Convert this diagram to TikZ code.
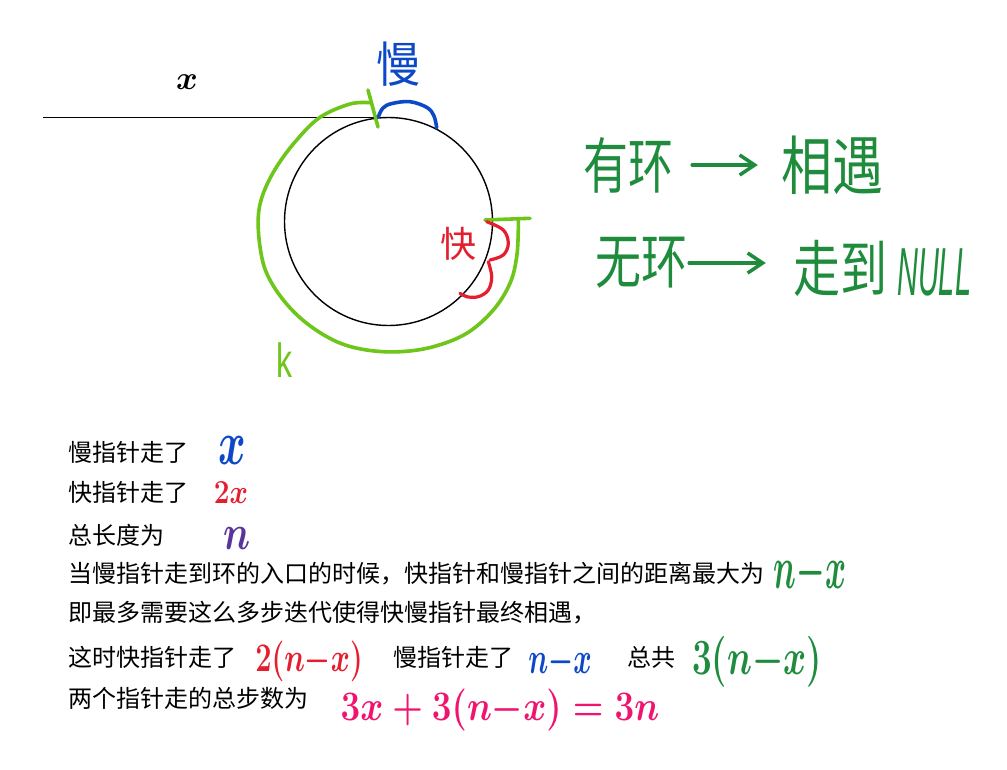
\RequirePackage{fix-cm}
\documentclass[tikz,border=0pt]{standalone}
\usepackage{fontspec}
\newfontfamily\cjk{Noto Sans CJK SC}
\newfontfamily\hwsans{Liberation Sans}
\usetikzlibrary{arrows.meta}
\definecolor{hblue}{RGB}{12,72,200}
\definecolor{hred}{RGB}{228,30,46}
\definecolor{hgreen}{RGB}{30,140,60}
\definecolor{hlime}{RGB}{110,198,26}
\definecolor{hpurple}{RGB}{90,52,150}
\definecolor{hpink}{RGB}{240,20,110}
\newcommand{\fs}[1]{\fontsize{#1}{#1}\selectfont}
\begin{document}
\begin{tikzpicture}[x=1pt,y=-1pt,
  txt/.style={anchor=west,inner sep=0pt,font=\cjk\fs{24}},
  hw/.style={inner sep=0pt,font=\boldmath},
  hand/.style={line width=3.6pt,line cap=round,line join=round},
  garrow/.style={draw=hgreen,line width=3.5pt,line cap=round,-{Straight Barb[length=15pt,width=20pt]}}]
\useasboundingbox (0,0) rectangle (1007,769);
\fill[white] (0,0) rectangle (1007,769);

% --- ring and tail ---
\draw[line width=1.4pt] (388.5,221.5) circle[radius=104];
\draw[line width=1.4pt] (43,117.5) -- (386,117.5);

% green arc (k)
\draw[hand,hlime] plot[smooth,tension=0.6] coordinates {
 (370,102.7) (350,104) (320,117.3) (296.7,140) (276.7,166.7) (263.3,193.3)
 (258.3,216.7) (260,246.7) (266.7,273.3) (283.3,300) (306.7,323.3) (336.7,341.7)
 (366.7,350) (400,351.7) (433.3,346.7) (466.7,333.3) (493.3,310) (510,283.3)
 (516.7,256.7) (518.3,230) (518.3,220)};
\draw[hand,hlime] (368,90) -- (378,127);
\draw[hand,hlime] (485,220) -- (530,218.3);

% blue arc (slow)
\draw[hand,hblue] plot[smooth,tension=0.6] coordinates {
 (378.3,117) (383,108) (392,103.5) (410,101.7) (427,107.5) (434,116) (436.7,128)};
% red arcs (fast)
\draw[hand,hred,line width=3.2pt] plot[smooth,tension=0.6] coordinates {
 (486.7,221.7) (503.3,230) (508.3,243.3) (503.3,255) (490,260)};
\draw[hand,hred,line width=3.2pt] plot[smooth,tension=0.6] coordinates {
 (488.3,261.7) (491.7,276.7) (488.3,290) (478.3,296.7) (466.7,296.7) (460,293.3)};

% labels on the ring
\node[hw] (lx) at (187,82) {\fs{33}$x$};
\node[inner sep=0pt,text=hblue,font=\cjk] (lslow) at (398,64) {\scalebox{1}[1.1]{\fs{44}慢}};
\node[inner sep=0pt,text=hred,font=\cjk] (lfast) at (458,244) {\fs{36}快};
\node[inner sep=0pt,text=hlime,font=\hwsans] (lk) at (284,360) {\scalebox{0.8}[1.2]{\fs{40}k}};

% --- right side notes ---
\node[inner sep=0pt,text=hgreen,font=\cjk] (you) at (628,165) {\scalebox{1}[1.35]{\fs{45}有环}};
\node[inner sep=0pt,text=hgreen,font=\cjk] (meet) at (832,165) {\scalebox{1}[1.25]{\fs{51}相遇}};
\node[inner sep=0pt,text=hgreen,font=\cjk] (wu) at (641,263) {\scalebox{1}[1.3]{\fs{46}无环}};
\node[inner sep=0pt,text=hgreen,font=\cjk] (zou) at (840,268) {\scalebox{1}[1.3]{\fs{47}走到}};
\node[inner sep=0pt,text=hgreen,font=\hwsans\itshape,anchor=west] (null) at (897,272) {\scalebox{0.85}[2.0]{\fs{34}NULL}};
\draw[garrow,shorten <=19pt,shorten >=23pt] (you.east) -- (you.east -| meet.west);
\draw[garrow,shorten <=2pt,shorten >=27pt] (wu.east) -- (wu.east -| zou.west);

% --- explanation ---
\node[txt] (t1) at (68,452) {慢指针走了};
\node[hw,text=hblue] (v1) at (232,450) {\scalebox{1}[1.5]{\fs{42}$x$}};
\node[txt] (t2) at (68,492) {快指针走了};
\node[hw,text=hred] (v2) at (231,493) {\scalebox{1}[1.2]{\fs{28}$2x$}};
\node[txt] (t3) at (68,535) {总长度为};
\node[hw,text=hpurple] (v3) at (237,539) {\scalebox{1}[1.3]{\fs{38}$n$}};
\node[txt] (t4) at (68,574) {当慢指针走到环的入口的时候，快指针和慢指针之间的距离最大为};
\node[hw,text=hgreen] (v4) at (810,573) {\scalebox{1}[1.9]{\fs{32}$n{-}x$}};
\node[txt] (t5) at (68,613) {即最多需要这么多步迭代使得快慢指针最终相遇，};
\node[txt] (t6a) at (68,657) {这时快指针走了};
\node[hw,text=hred] (v6a) at (309,661) {\scalebox{1}[1.4]{\fs{29}$2(n{-}x)$}};
\node[txt] (t6b) at (393,657) {慢指针走了};
\node[hw,text=hblue] (v6b) at (560,662) {\scalebox{1}[1.6]{\fs{28}$n{-}x$}};
\node[txt] (t6c) at (627,657) {总共};
\node[hw,text=hgreen] (v6c) at (757,662) {\scalebox{1}[1.45]{\fs{35}$3(n{-}x)$}};
\node[txt] (t7) at (68,698) {两个指针走的总步数为};
\node[hw,text=hpink] (v7) at (500,710) {\scalebox{1}[1.2]{\fs{35}$3x+3(n{-}x)=3n$}};
\end{tikzpicture}
\end{document}
